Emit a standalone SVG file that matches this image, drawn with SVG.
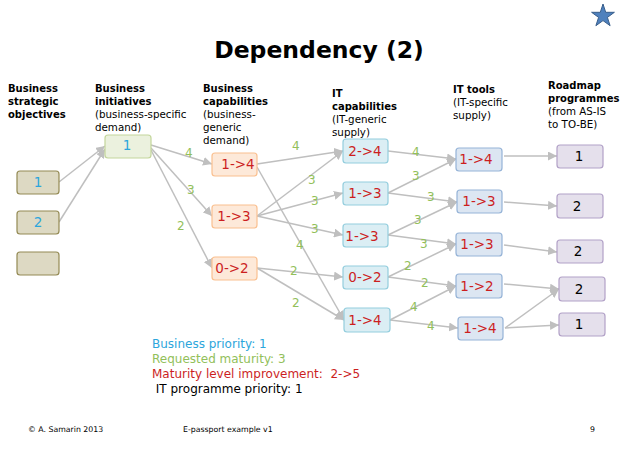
<svg xmlns="http://www.w3.org/2000/svg" width="638" height="452" viewBox="0 0 638 452">
<defs>
<marker id="ah" viewBox="0 0 10 10" refX="10" refY="5" markerWidth="9" markerHeight="9" markerUnits="userSpaceOnUse" orient="auto">
<path d="M0,0 L10,5 L0,10 z" fill="#bfbfbf"/>
</marker>
<style>
text{font-family:"DejaVu Sans","Liberation Sans",sans-serif}
.title{font-size:23.5px;font-weight:bold;fill:#000}
.hb{font-size:10px;font-weight:bold;fill:#000}
.hn{font-size:10.3px;fill:#000}
.conn line{stroke:#bfbfbf;stroke-width:1.5;marker-end:url(#ah)}
.lbl{font-size:12px;fill:#92c05a}
.nt{font-size:13.5px;text-anchor:middle}
.obj rect{fill:#ddd9c3;stroke:#948a54;stroke-width:1.2}
.ini rect{fill:#ebf1de;stroke:#c3d69b;stroke-width:1.2}
.bc rect{fill:#fde9d9;stroke:#fac090;stroke-width:1.2}
.itc rect{fill:#dbeef4;stroke:#93cddd;stroke-width:1.2}
.itt rect{fill:#dce6f2;stroke:#95b3d7;stroke-width:1.2}
.rm rect{fill:#e5e0ec;stroke:#b2a1c7;stroke-width:1.2}
.blue{fill:#2ca6dc}
.red{fill:#cc1f1f}
.blk{fill:#000}
.leg{font-size:12px}
.foot{font-size:7.8px;fill:#000}
</style>
</defs>
<rect width="638" height="452" fill="#fff"/>
<polygon points="603,4 605.7,12.3 614.4,12.3 607.4,17.4 610.1,25.7 603,20.6 595.9,25.7 598.6,17.4 591.6,12.3 600.3,12.3" fill="#4f81bd" stroke="#385d8a" stroke-width="1"/>
<text class="title" x="319" y="58" text-anchor="middle">Dependency (2)</text>

<g id="headers">
<text class="hb" x="8" y="92">Business</text>
<text class="hb" x="8" y="105">strategic</text>
<text class="hb" x="8" y="118">objectives</text>
<text class="hb" x="95" y="92">Business</text>
<text class="hb" x="95" y="105">initiatives</text>
<text class="hn" x="95" y="118">(business-specific</text>
<text class="hn" x="95" y="131">demand)</text>
<text class="hb" x="203" y="92">Business</text>
<text class="hb" x="203" y="105">capabilities</text>
<text class="hn" x="203" y="118">(business-</text>
<text class="hn" x="203" y="131">generic</text>
<text class="hn" x="203" y="144">demand)</text>
<text class="hb" x="332" y="97">IT</text>
<text class="hb" x="332" y="110">capabilities</text>
<text class="hn" x="332" y="123">(IT-generic</text>
<text class="hn" x="332" y="136">supply)</text>
<text class="hb" x="453" y="93">IT tools</text>
<text class="hn" x="453" y="106">(IT-specific</text>
<text class="hn" x="453" y="119">supply)</text>
<text class="hb" x="548" y="89">Roadmap</text>
<text class="hb" x="548" y="102">programmes</text>
<text class="hn" x="548" y="115">(from AS-IS</text>
<text class="hn" x="548" y="128">to TO-BE)</text>
</g>

<g id="connectors" class="conn">
<line x1="59" y1="182" x2="105" y2="146"/>
<line x1="59" y1="222" x2="105" y2="149"/>
<line x1="151" y1="145" x2="212" y2="164"/>
<line x1="151" y1="148" x2="212" y2="216"/>
<line x1="151" y1="150" x2="212" y2="268"/>
<line x1="257" y1="164" x2="343" y2="151"/>
<line x1="257" y1="216" x2="343" y2="151"/>
<line x1="257" y1="216" x2="343" y2="193"/>
<line x1="257" y1="216" x2="343" y2="235"/>
<line x1="257" y1="167" x2="344" y2="320"/>
<line x1="257" y1="268" x2="343" y2="277"/>
<line x1="257" y1="268" x2="344" y2="320"/>
<line x1="388" y1="151" x2="456" y2="159"/>
<line x1="388" y1="193" x2="456" y2="159"/>
<line x1="388" y1="193" x2="457" y2="202"/>
<line x1="388" y1="235" x2="457" y2="202"/>
<line x1="388" y1="235" x2="456" y2="244"/>
<line x1="388" y1="277" x2="456" y2="244"/>
<line x1="388" y1="277" x2="456" y2="286"/>
<line x1="390" y1="320" x2="456" y2="286"/>
<line x1="390" y1="320" x2="458" y2="328"/>
<line x1="504" y1="156" x2="557" y2="156"/>
<line x1="504" y1="202" x2="557" y2="206"/>
<line x1="504" y1="245" x2="557" y2="252"/>
<line x1="504" y1="284" x2="559" y2="289"/>
<line x1="505" y1="328" x2="559" y2="289"/>
<line x1="505" y1="328" x2="559" y2="325"/>
</g>

<g id="edge-labels">
<text class="lbl" x="185" y="157">4</text>
<text class="lbl" x="187" y="194">3</text>
<text class="lbl" x="177" y="230">2</text>
<text class="lbl" x="292" y="150">4</text>
<text class="lbl" x="308" y="184">3</text>
<text class="lbl" x="311" y="205">3</text>
<text class="lbl" x="311" y="233">3</text>
<text class="lbl" x="296" y="249">4</text>
<text class="lbl" x="290" y="275">2</text>
<text class="lbl" x="292" y="307">2</text>
<text class="lbl" x="412" y="156">4</text>
<text class="lbl" x="412" y="180">3</text>
<text class="lbl" x="427" y="201">3</text>
<text class="lbl" x="414" y="224">3</text>
<text class="lbl" x="420" y="248">3</text>
<text class="lbl" x="404" y="270">2</text>
<text class="lbl" x="421" y="287">2</text>
<text class="lbl" x="410" y="311">4</text>
<text class="lbl" x="427" y="330">4</text>
</g>

<g id="obj1" class="obj"><rect x="17" y="171" width="42" height="23" rx="3"/><text class="nt blue" x="38" y="187">1</text></g>
<g id="obj2" class="obj"><rect x="17" y="211" width="42" height="23" rx="3"/><text class="nt blue" x="38" y="227">2</text></g>
<g id="obj3" class="obj"><rect x="17" y="252" width="42" height="23" rx="3"/></g>

<g id="ini1" class="ini"><rect x="105" y="135" width="46" height="23" rx="3"/><text class="nt blue" x="127" y="150">1</text></g>

<g id="bc1" class="bc"><rect x="212" y="153" width="45" height="23" rx="3"/><text class="nt red" x="238" y="169">1-&gt;4</text></g>
<g id="bc2" class="bc"><rect x="212" y="205" width="45" height="23" rx="3"/><text class="nt red" x="234" y="221">1-&gt;3</text></g>
<g id="bc3" class="bc"><rect x="212" y="257" width="45" height="23" rx="3"/><text class="nt red" x="232" y="273">0-&gt;2</text></g>

<g id="itc1" class="itc"><rect x="343" y="139" width="45" height="24" rx="3"/><text class="nt red" x="365" y="156">2-&gt;4</text></g>
<g id="itc2" class="itc"><rect x="343" y="182" width="45" height="23" rx="3"/><text class="nt red" x="365" y="198">1-&gt;3</text></g>
<g id="itc3" class="itc"><rect x="343" y="224" width="45" height="23" rx="3"/><text class="nt red" x="362" y="241">1-&gt;3</text></g>
<g id="itc4" class="itc"><rect x="343" y="266" width="45" height="23" rx="3"/><text class="nt red" x="365" y="282">0-&gt;2</text></g>
<g id="itc5" class="itc"><rect x="344" y="308" width="46" height="24" rx="3"/><text class="nt red" x="365" y="325">1-&gt;4</text></g>

<g id="itt1" class="itt"><rect x="456" y="148" width="46" height="23" rx="3"/><text class="nt red" x="476" y="164">1-&gt;4</text></g>
<g id="itt2" class="itt"><rect x="457" y="190" width="45" height="23" rx="3"/><text class="nt red" x="479" y="206">1-&gt;3</text></g>
<g id="itt3" class="itt"><rect x="456" y="233" width="46" height="23" rx="3"/><text class="nt red" x="477" y="249">1-&gt;3</text></g>
<g id="itt4" class="itt"><rect x="456" y="274" width="46" height="24" rx="3"/><text class="nt red" x="477" y="291">1-&gt;2</text></g>
<g id="itt5" class="itt"><rect x="458" y="317" width="45" height="23" rx="3"/><text class="nt red" x="480" y="333">1-&gt;4</text></g>

<g id="rm1" class="rm"><rect x="557" y="145" width="46" height="23" rx="3"/><text class="nt blk" x="579" y="161">1</text></g>
<g id="rm2" class="rm"><rect x="557" y="194" width="46" height="24" rx="3"/><text class="nt blk" x="577" y="211">2</text></g>
<g id="rm3" class="rm"><rect x="557" y="240" width="46" height="23" rx="3"/><text class="nt blk" x="578" y="256">2</text></g>
<g id="rm4" class="rm"><rect x="559" y="277" width="46" height="24" rx="3"/><text class="nt blk" x="579" y="294">2</text></g>
<g id="rm5" class="rm"><rect x="559" y="313" width="46" height="23" rx="3"/><text class="nt blk" x="579" y="329">1</text></g>

<g id="legend">
<text class="leg blue" x="152" y="348">Business priority: 1</text>
<text class="leg" x="152" y="363" fill="#92c05a">Requested maturity: 3</text>
<text class="leg red" x="152" y="378" xml:space="preserve">Maturity level improvement:  2-&gt;5</text>
<text class="leg blk" x="152" y="393" xml:space="preserve"> IT programme priority: 1</text>
</g>

<g id="footer">
<text class="foot" x="28" y="432">© A. Samarin 2013</text>
<text class="foot" x="183" y="432">E-passport example v1</text>
<text class="foot" x="590" y="432">9</text>
</g>
</svg>
